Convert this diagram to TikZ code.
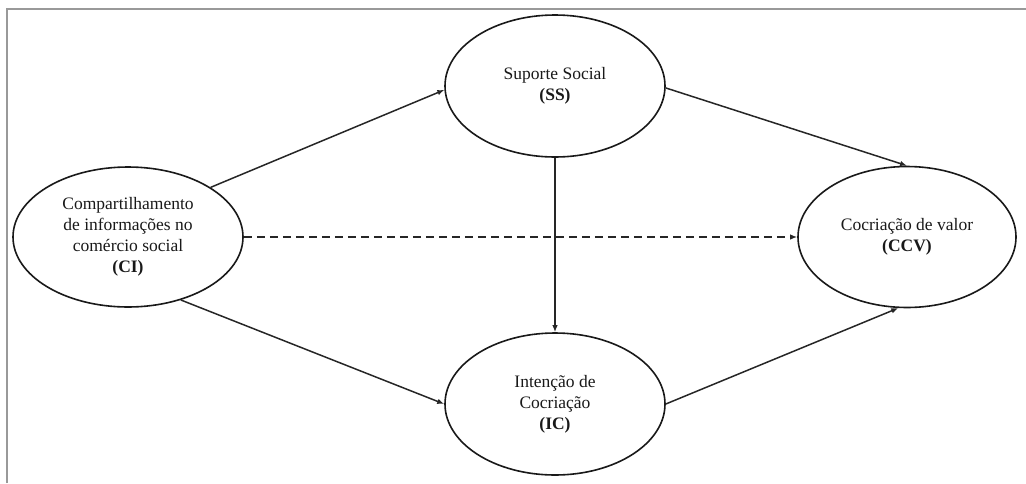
\documentclass[tikz,border=0pt]{standalone}
\usepackage{fontspec}
\setmainfont{Liberation Serif}
\usetikzlibrary{shapes.geometric,arrows.meta}
\begin{document}
\begin{tikzpicture}[x=1pt,y=-1pt,
  construct/.style={draw=black!90, line width=1.6pt, ellipse, inner sep=0pt, align=center,
    font=\fontsize{17.5pt}{21pt}\selectfont, text=black!90},
  conn/.style={draw=black!85, line width=1.5pt, -{Latex[length=7pt,width=5.5pt]}},
  frameline/.style={draw=black!40, line width=2pt}
]
\useasboundingbox (0,0) rectangle (1026,483);
\draw[frameline] (7,483) -- (7,9) -- (1026,9);

\node[construct, minimum width=230pt, minimum height=140pt] (ci) at (128,237)
  {Compartilhamento\\de informações no\\comércio social\\\textbf{(CI)}};
\node[construct, minimum width=220pt, minimum height=142pt] (ss) at (555,86)
  {Suporte Social\\\textbf{(SS)}};
\node[construct, minimum width=218pt, minimum height=141pt] (ccv) at (907,237)
  {Cocriação de valor\\\textbf{(CCV)}};
\node[construct, minimum width=220pt, minimum height=142pt] (ic) at (555,404)
  {Intenção de\\Cocriação\\\textbf{(IC)}};

\draw[conn] (ci.31) -- (ss.182);
\draw[conn] (ss.-1) -- (ccv.north);
\draw[conn] (ss.south) -- (ic.north);
\draw[conn] (ci.-50) -- (ic.west);
\draw[conn] (ic.east) -- (ccv.263);
\draw[conn, dash pattern=on 8pt off 5pt] (ci.east) -- (ccv.west);
\end{tikzpicture}
\end{document}
